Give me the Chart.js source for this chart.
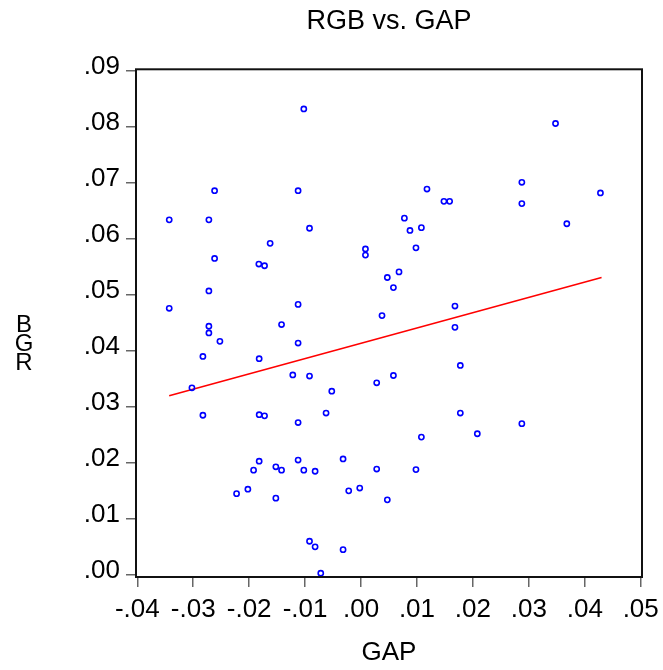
<!DOCTYPE html>
<html>
<head>
<meta charset="utf-8">
<script src="https://cdn.jsdelivr.net/npm/chart.js@4.4.1/dist/chart.umd.min.js"></script>
<style>
  html, body { margin: 0; padding: 0; background: #ffffff; }
  #wrap { width: 663px; height: 670px; position: relative; }
</style>
</head>
<body>
<div id="wrap"><canvas id="c" width="663" height="670"></canvas></div>
<script>
const chartTitle = "RGB vs. GAP";
const xAxisTitle = "GAP";
const yAxisLetters = ["B", "G", "R"];

const gapValues = [
  -0.01023, -0.02618, -0.01125, -0.03429, -0.0272, -0.00921, -0.01625, -0.02618, -0.01827, -0.01725,
  0.00079, 0.00079, 0.00470, -0.0272, -0.03429, -0.01125, 0.00375, 0.03477, 0.02875, 0.02875,
  0.0428, 0.03679, 0.01179, 0.01482, 0.01584, 0.00775, 0.00875, 0.01079, 0.00982, 0.00679,
  0.00579, 0.01679, -0.0272, -0.0272, -0.02523, -0.01421, -0.01125, -0.02827, -0.01821, -0.03023,
  -0.0122, -0.00921, -0.00523, 0.00280, -0.02827, -0.01821, -0.01725, -0.01125, -0.00625, -0.01821,
  -0.01921, -0.01523, -0.01421, -0.01125, -0.01023, -0.00821, -0.00321, 0.00280, -0.02225, -0.02023,
  -0.01523, -0.00220, -0.00023, 0.00470, -0.00921, -0.00821, -0.00321, -0.00720, 0.01679, 0.01775,
  0.00579, 0.01775, 0.02875, 0.01079, 0.02079, 0.00982
];
const rgbValues = [
  0.0831, 0.0685, 0.0685, 0.0633, 0.0633, 0.0618, 0.0591, 0.0564, 0.0554, 0.0551,
  0.0581, 0.0570, 0.0530, 0.0506, 0.0475, 0.0482, 0.0462, 0.0805, 0.0700, 0.0662,
  0.0681, 0.0626, 0.0688, 0.0666, 0.0666, 0.0636, 0.0614, 0.0619, 0.0583, 0.0540,
  0.0512, 0.0479, 0.0443, 0.0431, 0.0416, 0.0446, 0.0413, 0.0389, 0.0385, 0.0333,
  0.0356, 0.0354, 0.0327, 0.0342, 0.0284, 0.0285, 0.0283, 0.0271, 0.0288, 0.0202,
  0.0186, 0.0192, 0.0186, 0.0204, 0.0186, 0.0184, 0.0206, 0.0188, 0.0144, 0.0152,
  0.0136, 0.0149, 0.0154, 0.0133, 0.0059, 0.0049, 0.0044, 0.0002, 0.0441, 0.0373,
  0.0355, 0.0288, 0.0269, 0.0245, 0.0251, 0.0187
];

// regression line end points
const fitGap = [-0.0343, 0.0430];
const fitRgb = [0.0319, 0.0530];

const xTickValues = [-0.04, -0.03, -0.02, -0.01, 0.00, 0.01, 0.02, 0.03, 0.04, 0.05];
const xTickLabels = ["-.04", "-.03", "-.02", "-.01", ".00", ".01", ".02", ".03", ".04", ".05"];
const yTickValues = [0.00, 0.01, 0.02, 0.03, 0.04, 0.05, 0.06, 0.07, 0.08, 0.09];
const yTickLabels = [".00", ".01", ".02", ".03", ".04", ".05", ".06", ".07", ".08", ".09"];

const FONT = "'Liberation Sans', Arial, Helvetica, sans-serif";

const scatterPoints = gapValues.map((g, i) => ({ x: g, y: rgbValues[i] }));
const fitPoints = fitGap.map((g, i) => ({ x: g, y: fitRgb[i] }));

const framePlugin = {
  id: 'frameAndLetters',
  afterDraw(chart) {
    const { ctx, chartArea: a } = chart;
    ctx.save();
    ctx.strokeStyle = '#111111';
    ctx.lineWidth = 2;
    ctx.strokeRect(a.left, a.top, a.right - a.left, a.bottom - a.top);
    ctx.fillStyle = '#000000';
    ctx.font = "24px " + FONT;
    ctx.textAlign = 'center';
    ctx.textBaseline = 'middle';
    const ys = [325, 344, 363];
    yAxisLetters.forEach((l, i) => ctx.fillText(l, 24, ys[i]));
    ctx.restore();
  }
};

new Chart(document.getElementById('c'), {
  type: 'scatter',
  data: {
    datasets: [
      {
        label: 'RGB',
        data: scatterPoints,
        pointStyle: 'circle',
        pointRadius: 2.6,
        pointBorderWidth: 1.6,
        borderColor: '#0000ff',
        backgroundColor: 'rgba(255,255,255,0)',
        pointHoverRadius: 2.6
      },
      {
        label: 'fit',
        data: fitPoints,
        showLine: true,
        borderColor: '#ff0000',
        borderWidth: 1.6,
        pointRadius: 0,
        fill: false
      }
    ]
  },
  options: {
    responsive: false,
    animation: false,
    events: [],
    layout: { padding: { top: 0, right: 21, bottom: 0, left: 0 } },
    plugins: {
      legend: { display: false },
      tooltip: { enabled: false },
      title: {
        display: true,
        text: chartTitle,
        fullSize: false,
        color: '#000000',
        font: { family: FONT, size: 27, weight: 'normal' },
        padding: { top: 5, bottom: 31.9 }
      }
    },
    scales: {
      x: {
        type: 'linear',
        position: 'bottom',
        min: -0.04023,
        max: 0.05023,
        afterBuildTicks(scale) { scale.ticks = xTickValues.map(v => ({ value: v })); },
        afterFit(scale) { scale.height = 93; scale.paddingLeft = 0; scale.paddingRight = 0; },
        grid: { display: true, drawOnChartArea: false, drawTicks: true, tickLength: 10, color: '#666666', lineWidth: 1.5 },
        border: { display: false },
        ticks: {
          color: '#000000',
          font: { family: FONT, size: 26 },
          padding: 7.5,
          maxRotation: 0,
          autoSkip: false,
          callback: (v, i) => xTickLabels[i]
        },
        title: {
          display: true,
          text: xAxisTitle,
          color: '#000000',
          font: { family: FONT, size: 26 },
          padding: { top: 0, bottom: 2 }
        }
      },
      y: {
        type: 'linear',
        position: 'left',
        min: -0.00048,
        max: 0.09018,
        afterBuildTicks(scale) { scale.ticks = yTickValues.map(v => ({ value: v })); },
        afterFit(scale) { scale.width = 136; scale.paddingTop = 0; scale.paddingBottom = 0; },
        grid: { display: true, drawOnChartArea: false, drawTicks: true, tickLength: 10, color: '#666666', lineWidth: 1.5 },
        border: { display: false },
        ticks: {
          color: '#000000',
          font: { family: FONT, size: 26 },
          padding: 6,
          labelOffset: -3,
          autoSkip: false,
          callback: (v, i) => yTickLabels[i]
        }
      }
    }
  },
  plugins: [framePlugin]
});
</script>
</body>
</html>
